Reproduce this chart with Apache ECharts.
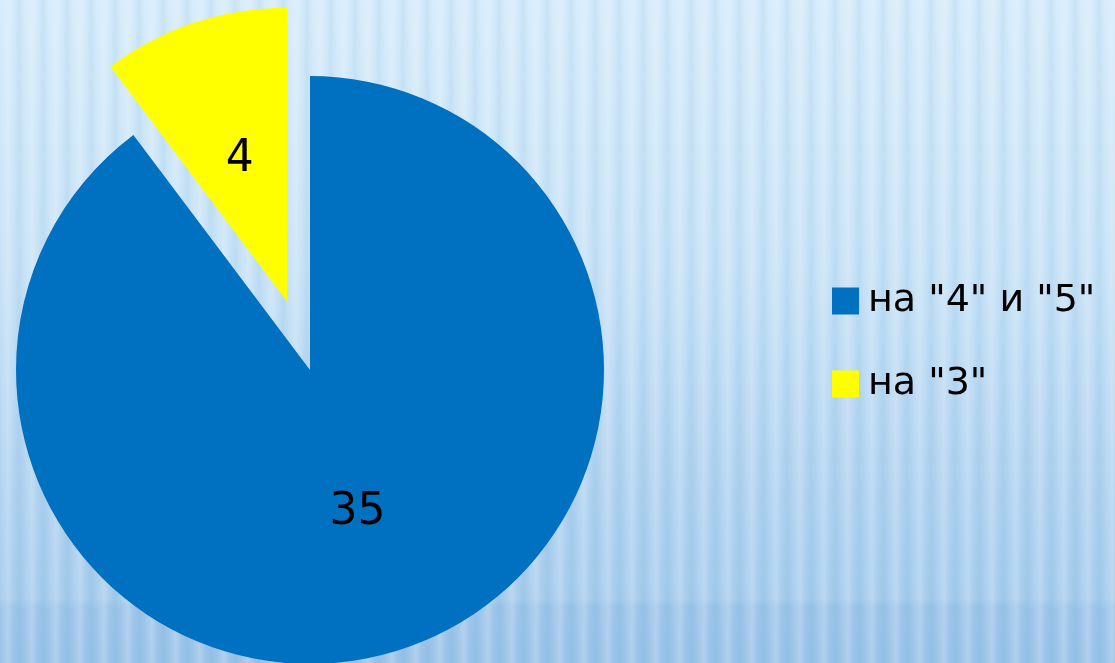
<!DOCTYPE html>
<html>
<head>
<meta charset="utf-8">
<script src="https://cdn.jsdelivr.net/npm/echarts@6/dist/echarts.min.js"></script>
<style>
html,body{margin:0;padding:0;width:1115px;height:663px;overflow:hidden;}
body{
  background:
    repeating-linear-gradient(90deg, rgba(255,255,255,0) 0px, rgba(255,255,255,0.22) 8px, rgba(255,255,255,0) 14px, rgba(90,150,210,0.10) 19px, rgba(255,255,255,0) 24px),
    linear-gradient(to bottom, rgba(0,0,0,0) 0px, rgba(0,0,0,0) 600px, rgba(80,140,205,0.10) 606px, rgba(80,140,205,0.10) 663px),
    linear-gradient(to bottom, #d5ebfa 0%, #c7e2f6 40%, #afd2ef 75%, #a2c9ea 100%);
}
#chart{width:1115px;height:663px;}
</style>
</head>
<body>
<div id="chart"></div>
<script>
var categories = ['на "4" и "5"', 'на "3"'];
var values = [35, 4];
var colors = ['#0070C0', '#FFFF00'];

var chart = echarts.init(document.getElementById('chart'), null, {renderer: 'canvas'});
var data = categories.map(function (c, i) {
  return {name: c, value: values[i], itemStyle: {color: colors[i]}, selected: i === 1};
});
chart.setOption({
  animation: false,
  backgroundColor: 'transparent',
  legend: {
    orient: 'vertical',
    left: 827,
    top: 276,
    itemWidth: 27,
    itemHeight: 27,
    itemGap: 43,
    icon: 'rect',
    selectedMode: false,
    textStyle: {fontFamily: 'DejaVu Sans', fontSize: 38, color: '#000', lineHeight: 40, padding: [0, 0, 0, 4]},
    data: categories
  },
  series: [{
    type: 'pie',
    center: [310, 370],
    radius: 294,
    startAngle: 90,
    clockwise: true,
    selectedMode: 'single',
    selectedOffset: 72,
    avoidLabelOverlap: false,
    emphasis: {disabled: true},
    label: {
      show: true,
      position: 'inside',
      formatter: '{c}',
      fontFamily: 'DejaVu Sans',
      fontSize: 44,
      color: '#000'
    },
    labelLine: {show: false},
    data: data
  }]
});
</script>
</body>
</html>
